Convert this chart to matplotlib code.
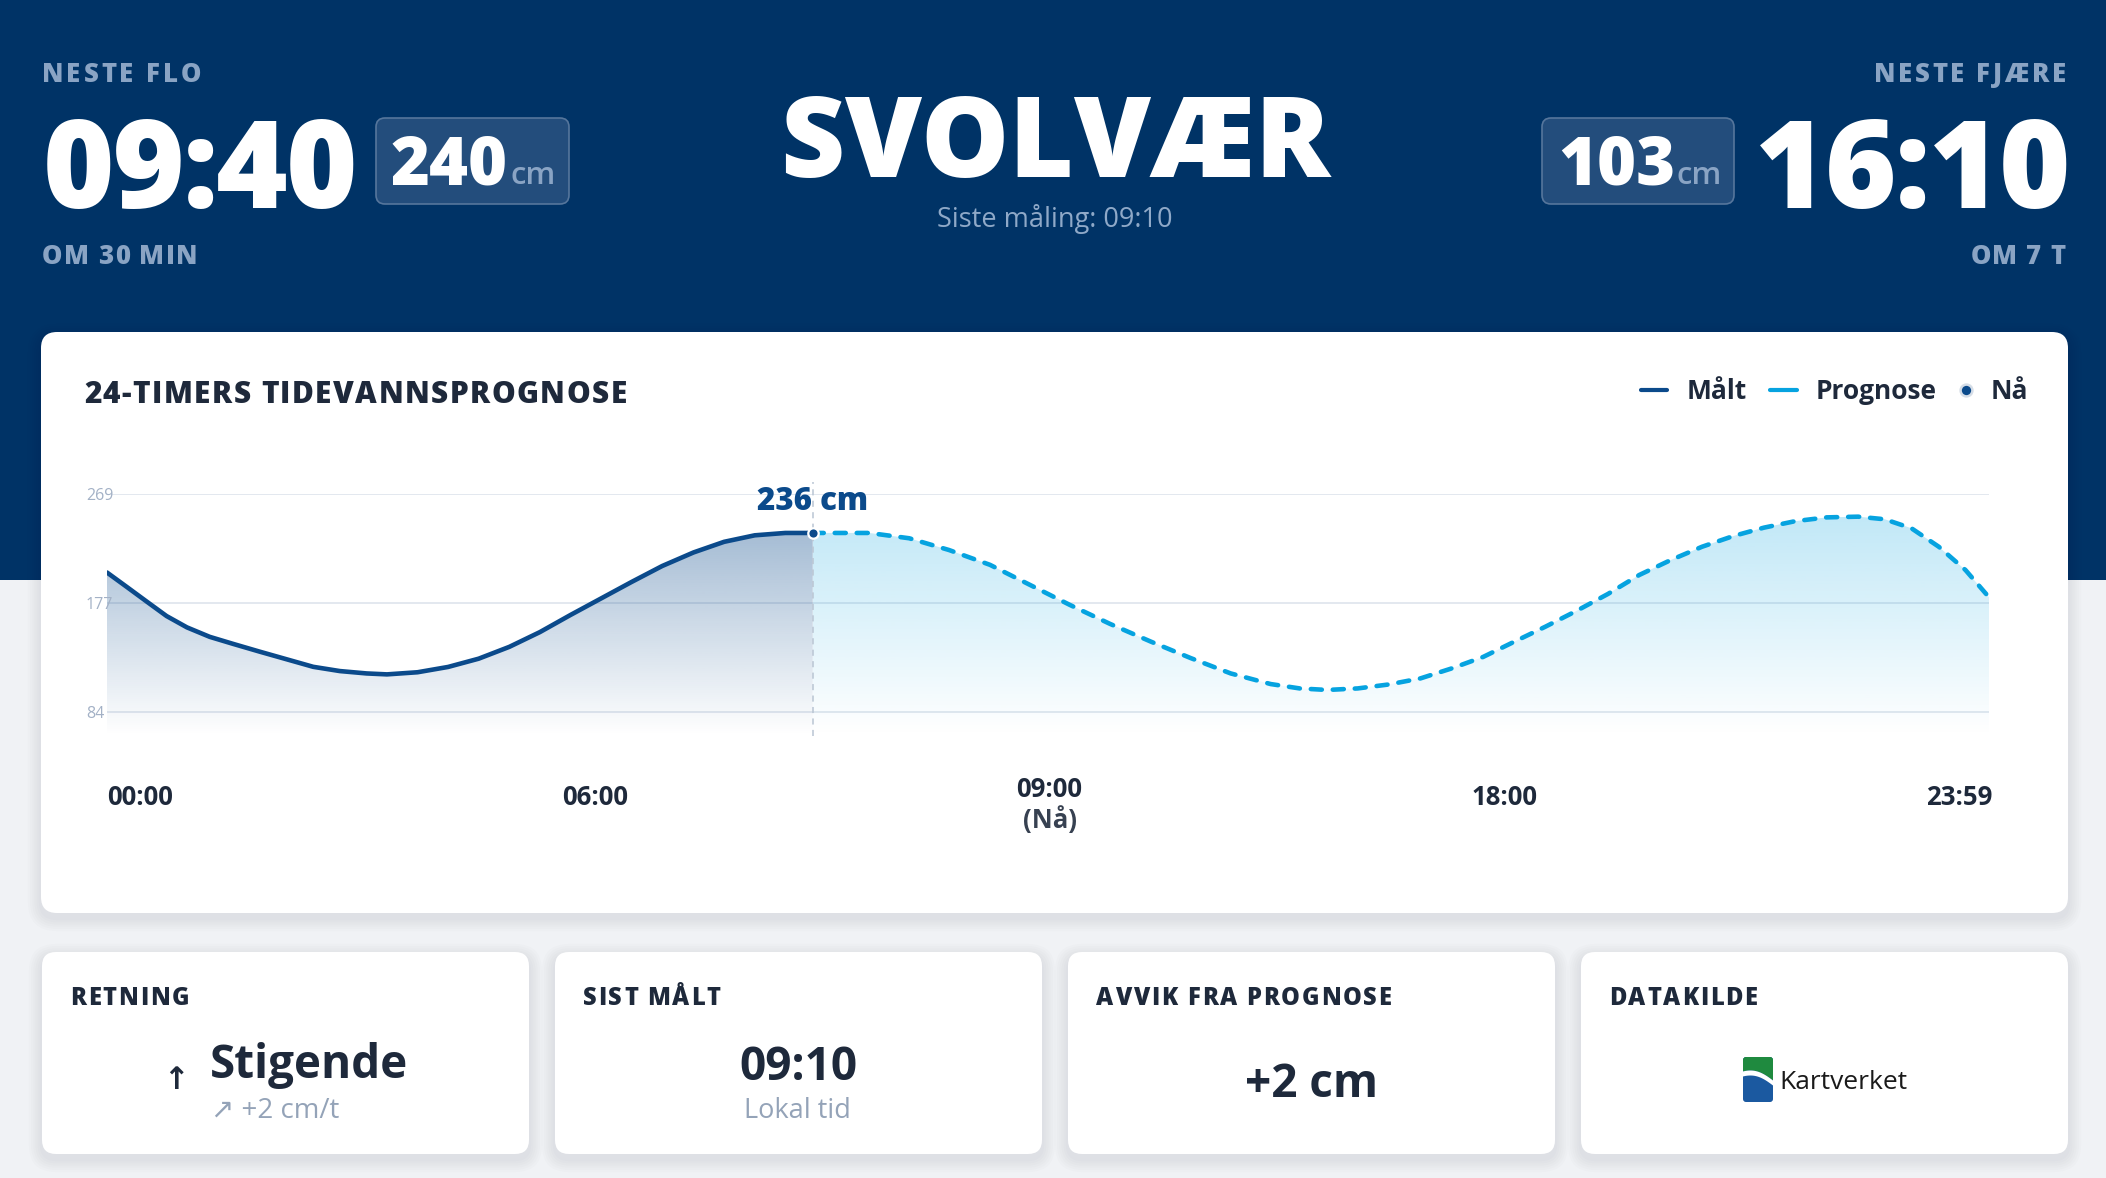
import numpy as np
import matplotlib
matplotlib.use("Agg")
import matplotlib.pyplot as plt
from matplotlib.patches import FancyBboxPatch, Polygon
from matplotlib.colors import to_rgb
from matplotlib.font_manager import FontProperties, findfont, get_font
from matplotlib import ft2font

plt.rcParams['font.family'] = ['Open Sans', 'DejaVu Sans']

# ---------------- data ----------------
station = "SVOLVÆR"
last_measurement = "09:10"
next_high_label = "NESTE FLO"
next_high_time = "09:40"
next_high_cm = 240
next_high_in = "OM 30 MIN"
next_low_label = "NESTE FJÆRE"
next_low_time = "16:10"
next_low_cm = 103
next_low_in = "OM 7 T"

measured_hours = [0.0, 0.25, 0.51, 0.76, 1.02, 1.31, 1.61, 1.95, 2.29, 2.63, 2.97,
                  3.31, 3.57, 3.96, 4.35, 4.74, 5.13, 5.52, 5.91, 6.30, 6.69,
                  7.08, 7.48, 7.87, 8.26, 8.65, 9.0]
measured_cm = [202.5, 190.4, 177.7, 165.6, 156, 148, 142, 135.4, 129, 122.6, 119,
               117, 116.2, 118, 122.5, 129.5, 139.5, 152, 166.5, 180.5, 194.5,
               208, 219.5, 228.5, 234, 236, 236]

forecast_hours = [9.0, 9.72, 10.23, 10.74, 11.26, 11.77, 12.28, 12.79, 13.31, 13.82,
                  14.33, 14.84, 15.21, 15.56, 15.95, 16.35, 16.75, 17.15, 17.55,
                  17.95, 18.34, 18.74, 19.14, 19.54, 19.94, 20.34, 20.74, 21.13,
                  21.53, 21.93, 22.33, 22.67, 23.01, 23.36, 23.70, 24.0]
forecast_cm = [236, 236, 231.5, 221.5, 209, 192, 175, 159, 144, 130,
               117, 108, 104.3, 103, 104.3, 107.7, 112.8, 121.3, 131,
               144, 156.5, 170, 184.3, 200.4, 213, 224.3, 233.4, 240.5,
               246, 249.2, 249.8, 247.6, 240, 224.3, 204.6, 181.5]

now_hour = 9.0
now_cm = 236
y_ticks = [84, 177, 269]
x_labels = ["00:00", "06:00", "09:00\n(Nå)", "18:00", "23:59"]
legend_labels = ["Målt", "Prognose", "Nå"]

cards = [("RETNING", "Stigende", "↗ +2 cm/t"),
         ("SIST MÅLT", "09:10", "Lokal tid"),
         ("AVVIK FRA PROGNOSE", "+2 cm", ""),
         ("DATAKILDE", "Kartverket", "")]

# ---------------- style ----------------
NAVY = "#003366"
BG = "#f0f2f5"
DARK = "#1e293b"
MUTED_HDR = "#8aa4c4"
GREY = "#94a3b8"
MEAS = "#0b4a8b"
FORE = "#06a3e0"

W, H = 2106, 1178
fig = plt.figure(figsize=(W / 100, H / 100), dpi=100)
fig.patch.set_facecolor(BG)
bg = fig.add_axes([0, 0, 1, 1])
bg.set_xlim(0, W)
bg.set_ylim(H, 0)
bg.axis('off')
bg.set_zorder(0)

try:
    NOHINT = ft2font.LoadFlags.NO_HINTING
except AttributeError:
    NOHINT = ft2font.LOAD_NO_HINTING


def advances(s, prop):
    font = get_font(findfont(prop))
    font.set_size(prop.get_size_in_points(), 100)
    out = []
    for c in s:
        g = font.load_char(ord(c), flags=NOHINT)
        out.append(g.linearHoriAdvance / 65536.0)
    return out


def spaced(ax, x, y, s, size, weight, color, spacing=0.0, ha='left', zorder=5):
    prop = FontProperties(family='Open Sans', weight=weight, size=size)
    adv = advances(s, prop)
    total = sum(adv) + spacing * (len(s) - 1)
    if ha == 'left':
        cur = x
    elif ha == 'right':
        cur = x - total
    else:
        cur = x - total / 2
    for c, a in zip(s, adv):
        if c != ' ':
            ax.text(cur, y, c, fontproperties=prop, color=color, ha='left',
                    va='baseline', zorder=zorder)
        cur += a + spacing


def rbox(ax, x, y, w, h, r, fc, ec='none', lw=0, zorder=1, shadow=False):
    if shadow:
        for i in range(1, 7):
            s = i * 2.2
            ax.add_patch(FancyBboxPatch((x - s, y - s + 5), w + 2 * s, h + 2 * s,
                                        boxstyle=f"round,pad=0,rounding_size={r + s}",
                                        fc=(0.1, 0.15, 0.25, 0.012), ec='none',
                                        zorder=zorder - 0.5))
    p = FancyBboxPatch((x, y), w, h, boxstyle=f"round,pad=0,rounding_size={r}",
                       fc=fc, ec=ec, lw=lw, zorder=zorder)
    ax.add_patch(p)
    return p


# header band
bg.add_patch(plt.Rectangle((0, 0), W, 580, fc=NAVY, ec='none', zorder=0.5))

# left header block
spaced(bg, 42, 81.7, next_high_label, 18.5, 'heavy', MUTED_HDR, spacing=2.9)
spaced(bg, 43, 208.3, next_high_time, 88, 'heavy', 'white', spacing=-1.8)
rbox(bg, 376, 118, 193, 86, 9, fc="#234d7c", ec="#56769c", lw=1.2, zorder=2)
bg.text(391, 184.3, str(next_high_cm), fontsize=48, fontweight='heavy', color='white',
        ha='left', va='baseline', zorder=5)
bg.text(511, 184.3, "cm", fontsize=22.5, fontweight='semibold', color=MUTED_HDR,
        ha='left', va='baseline', zorder=5)
spaced(bg, 42, 264, next_high_in, 18.5, 'heavy', MUTED_HDR, spacing=1.4)

# center
spaced(bg, 1055, 177.3, station, 80, 'heavy', 'white', spacing=-0.5, ha='center')
bg.text(1055, 226.7, f"Siste måling: {last_measurement}", fontsize=19.5, color="#8fa9c8",
        ha='center', va='baseline', zorder=5)

# right header block
spaced(bg, 2066, 81.7, next_low_label, 18.5, 'heavy', MUTED_HDR, spacing=2.7, ha='right')
spaced(bg, 2070, 208.3, next_low_time, 88, 'heavy', 'white', spacing=-1.8, ha='right')
rbox(bg, 1542, 118, 192, 86, 9, fc="#234d7c", ec="#56769c", lw=1.2, zorder=2)
bg.text(1558, 184.3, str(next_low_cm), fontsize=48, fontweight='heavy', color='white',
        ha='left', va='baseline', zorder=5)
bg.text(1677, 184.3, "cm", fontsize=22.5, fontweight='semibold', color=MUTED_HDR,
        ha='left', va='baseline', zorder=5)
spaced(bg, 2066, 264, next_low_in, 18.5, 'heavy', MUTED_HDR, spacing=1.3, ha='right')

# chart card
rbox(bg, 41, 332, 2027, 581, 16, fc='white', zorder=1, shadow=True)
spaced(bg, 84, 403.3, "24-TIMERS TIDEVANNSPROGNOSE", 21.5, 'heavy', DARK, spacing=1.4)

# legend
bg.plot([1641, 1667], [390, 390], color=MEAS, lw=3.0, solid_capstyle='round', zorder=5)
bg.text(1687, 399, legend_labels[0], fontsize=19, fontweight='bold', color=DARK,
        ha='left', va='baseline', zorder=5)
bg.plot([1770, 1797], [390, 390], color=FORE, lw=3.0, solid_capstyle='round', zorder=5)
bg.text(1816, 399, legend_labels[1], fontsize=19, fontweight='bold', color=DARK,
        ha='left', va='baseline', zorder=5)
bg.plot([1966], [390], 'o', ms=8.5, mfc=MEAS, mec="#d5dde7", mew=1.8, zorder=5)
bg.text(1991, 399, legend_labels[2], fontsize=19, fontweight='bold', color=DARK,
        ha='left', va='baseline', zorder=5)

# ---------------- chart axes ----------------
px_left, px_right, px_top, px_bottom = 107, 1989, 494, 736
ax = fig.add_axes([px_left / W, 1 - px_bottom / H, (px_right - px_left) / W,
                   (px_bottom - px_top) / H])
ax.set_zorder(2)
ax.patch.set_alpha(0)
ax.axis('off')
YMIN, YMAX = 64, 269

for yv in y_ticks:
    ax.axhline(yv, color="#e3e8ef", lw=1.4, zorder=1)
    ax.text(-21 / (px_right - px_left), yv, str(yv), transform=ax.get_yaxis_transform(),
            fontsize=11.5, color="#a3b1c6", ha='left', va='center_baseline', zorder=5)


def gradient_fill(x, y, color, alpha_top):
    poly = ax.fill_between(x, y, YMIN, facecolor='none', edgecolor='none')
    path = poly.get_paths()[0]
    top = max(y)
    n = 256
    rgba = np.zeros((n, 1, 4))
    rgba[..., :3] = to_rgb(color)
    rgba[:, 0, 3] = alpha_top * np.linspace(1, 0, n)
    im = ax.imshow(rgba, extent=[x[0], x[-1], YMIN, top], aspect='auto',
                   origin='upper', zorder=2, interpolation='bilinear')
    im.set_clip_path(path, transform=ax.transData)


gradient_fill(measured_hours, measured_cm, MEAS, 0.37)
gradient_fill(forecast_hours, forecast_cm, FORE, 0.25)

ax.plot([now_hour, now_hour], [YMIN, 279], color="#b9c5d3", lw=1.1, dashes=(4, 3.5),
        clip_on=False, zorder=3)
ax.plot(measured_hours, measured_cm, color=MEAS, lw=3.3, solid_capstyle='round',
        solid_joinstyle='round', zorder=4)
fl, = ax.plot(forecast_hours, forecast_cm, color=FORE, lw=3.3, zorder=4)
fl.set_dashes((2.4, 2.4))
fl.set_dash_capstyle('round')
ax.plot([now_hour], [now_cm], 'o', ms=7.5, mfc=MEAS, mec='white', mew=1.6, zorder=6,
        clip_on=False)
ax.text(now_hour, 255.4, f"{now_cm} cm", ha='center', va='baseline', fontsize=22.5,
        fontweight='heavy', color=MEAS, zorder=5, clip_on=False)
ax.set_xlim(0, 24)
ax.set_ylim(YMIN, YMAX)

# x labels (evenly distributed)
centers = np.linspace(139.7, 1959.5, len(x_labels))
for cx, lab in zip(centers, x_labels):
    parts = lab.split("\n")
    if len(parts) == 1:
        bg.text(cx, 805, parts[0], fontsize=18.5, fontweight='bold', color=DARK,
                ha='center', va='baseline', zorder=5)
    else:
        bg.text(cx, 797, parts[0], fontsize=18.5, fontweight='bold', color=DARK,
                ha='center', va='baseline', zorder=5)
        bg.text(cx, 828, parts[1], fontsize=18.5, fontweight='bold', color="#374151",
                ha='center', va='baseline', zorder=5)

# ---------------- bottom cards ----------------
card_x = [42, 555, 1068, 1581]
cw, cy, ch = 487, 952, 202
for (title, main, sub), x0 in zip(cards, card_x):
    rbox(bg, x0, cy, cw, ch, 14, fc='white', zorder=1, shadow=True)
    spaced(bg, x0 + 28, 1005, title, 17, 'heavy', DARK, spacing=1.8)

# card 1: direction
bg.text(176, 1089, "↑", fontsize=22, fontweight='bold', color=DARK, family=['DejaVu Sans'],
        ha='center', va='baseline', zorder=5)
bg.text(210, 1078.3, cards[0][1], fontsize=33, fontweight='bold', color=DARK,
        ha='left', va='baseline', zorder=5)
bg.text(211, 1118.3, cards[0][2], fontsize=20, color=GREY,
        family=['Open Sans', 'DejaVu Sans'], ha='left', va='baseline', zorder=5)
# card 2
bg.text(798, 1080, cards[1][1], fontsize=33, fontweight='bold', color=DARK,
        ha='center', va='baseline', zorder=5)
bg.text(797, 1118.3, cards[1][2], fontsize=19.5, color=GREY,
        ha='center', va='baseline', zorder=5)
# card 3
bg.text(1311.5, 1096.7, cards[2][1], fontsize=33, fontweight='bold', color=DARK,
        ha='center', va='baseline', zorder=5)
# card 4: logo + name
lx, ly, lw_, lh = 1743, 1057, 30, 45
logo = rbox(bg, lx, ly, lw_, lh, 3, fc="#1b59a0", zorder=3)
u = np.linspace(0, 1, 40)
wave = 1074 + 9 * u ** 1.5 - 3 * np.sin(np.pi * u)
xs = lx + u * lw_
green = Polygon(np.column_stack([np.r_[xs, xs[::-1]], np.r_[wave - 2.5, np.full(40, ly - 2)]]),
                closed=True, fc="#1f8a3f", ec='none', zorder=3.1)
white = Polygon(np.column_stack([np.r_[xs, xs[::-1]], np.r_[wave - 2.5, (wave + 2.5)[::-1]]]),
                closed=True, fc="white", ec='none', zorder=3.2)
for p in (green, white):
    bg.add_patch(p)
    p.set_clip_path(logo)
bg.text(1779, 1089.3, cards[3][1], fontsize=19, color="#1a1a1a",
        ha='left', va='baseline', zorder=5)

fig.savefig("out.png", dpi=100, facecolor=fig.get_facecolor())
